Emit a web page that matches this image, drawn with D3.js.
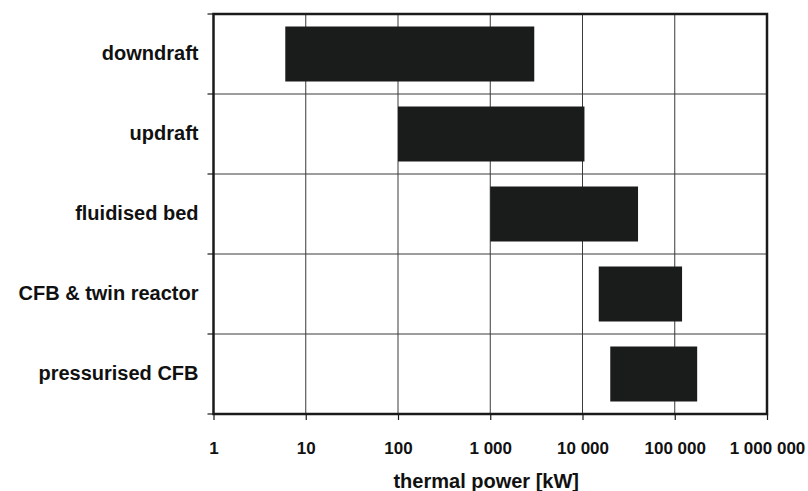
<!DOCTYPE html>
<html>
<head>
<meta charset="utf-8">
<script src="https://cdn.jsdelivr.net/npm/d3@7/dist/d3.min.js"></script>
<style>
  html, body { margin: 0; padding: 0; background: #fff; }
  svg { display: block; font-family: "Liberation Sans", Arial, sans-serif; font-weight: bold; }
</style>
</head>
<body>
<svg id="chart" width="808" height="491"></svg>
<script>
// Gasifier types and their thermal power range (kW)
const categories = ["downdraft", "updraft", "fluidised bed", "CFB & twin reactor", "pressurised CFB"];
const minPower = [6, 100, 1000, 15000, 20000];
const maxPower = [3000, 10500, 40000, 120000, 175000];

// Decade ticks on the logarithmic power axis
const tickValues = [1, 10, 100, 1000, 10000, 100000, 1000000];
const tickLabels = ["1", "10", "100", "1 000", "10 000", "100 000", "1 000 000"];
const axisTitle = "thermal power [kW]";

const margin = { top: 14, right: 41, bottom: 77, left: 213.5 };
const width = 808, height = 491;
const svg = d3.select("#chart");

const x = d3.scaleLog()
  .domain([tickValues[0], tickValues[tickValues.length - 1]])
  .range([margin.left, width - margin.right]);

const y = d3.scaleBand()
  .domain(categories)
  .range([margin.top, height - margin.bottom])
  .paddingInner(0.3125)
  .paddingOuter(0.15625);

const x0 = x.range()[0], x1 = x.range()[1];
const y0 = y.range()[0], y1 = y.range()[1];
const gap = (y.step() - y.bandwidth()) / 2;
const boundaries = categories.map(c => y(c) - gap).concat([y1]);

// Grid: decade verticals and row separators
svg.append("g").selectAll("line").data(tickValues.slice(1, -1)).join("line")
  .attr("x1", d => x(d)).attr("x2", d => x(d))
  .attr("y1", y0).attr("y2", y1)
  .attr("stroke", "#3a3a3a").attr("stroke-width", 1);

svg.append("g").selectAll("line").data(boundaries.slice(1, -1)).join("line")
  .attr("x1", x0).attr("x2", x1)
  .attr("y1", d => d).attr("y2", d => d)
  .attr("stroke", "#3a3a3a").attr("stroke-width", 1);

// Range bars
const rows = categories.map((c, i) => ({ cat: c, lo: minPower[i], hi: maxPower[i] }));
svg.append("g").selectAll("rect").data(rows).join("rect")
  .attr("x", d => x(d.lo))
  .attr("width", d => x(d.hi) - x(d.lo))
  .attr("y", d => y(d.cat))
  .attr("height", y.bandwidth())
  .attr("fill", "#1a1b1b");

// Frame
svg.append("rect")
  .attr("x", x0).attr("y", y0)
  .attr("width", x1 - x0).attr("height", y1 - y0)
  .attr("fill", "none").attr("stroke", "#1a1a1a").attr("stroke-width", 2.5);

// Row boundary ticks on the left axis
svg.append("g").selectAll("line").data(boundaries).join("line")
  .attr("x1", x0 - 6).attr("x2", x0)
  .attr("y1", d => d).attr("y2", d => d)
  .attr("stroke", "#1a1a1a").attr("stroke-width", 1.2);

// Category labels
const yAxis = svg.append("g")
  .attr("transform", `translate(${x0},0)`)
  .call(d3.axisLeft(y).tickSize(0).tickPadding(15));
yAxis.select(".domain").remove();
yAxis.selectAll("text")
  .attr("font-family", '"Liberation Sans", Arial, sans-serif')
  .attr("font-weight", "bold")
  .attr("font-size", 20)
  .attr("fill", "#111");

// Bottom axis ticks and labels
const xAxis = svg.append("g")
  .attr("transform", `translate(0,${y1})`)
  .call(d3.axisBottom(x)
    .tickValues(tickValues)
    .tickFormat((d, i) => tickLabels[i])
    .tickSize(6)
    .tickPadding(22));
xAxis.select(".domain").remove();
xAxis.selectAll(".tick line").attr("stroke", "#1a1a1a").attr("stroke-width", 1.2);
xAxis.selectAll("text")
  .attr("font-family", '"Liberation Sans", Arial, sans-serif')
  .attr("font-weight", "bold")
  .attr("font-size", 17)
  .attr("fill", "#111");

// Axis title
svg.append("text")
  .attr("x", (x0 + x1) / 2 - 4)
  .attr("y", 488)
  .attr("text-anchor", "middle")
  .attr("font-size", 20)
  .attr("fill", "#111")
  .text(axisTitle);
</script>
</body>
</html>
